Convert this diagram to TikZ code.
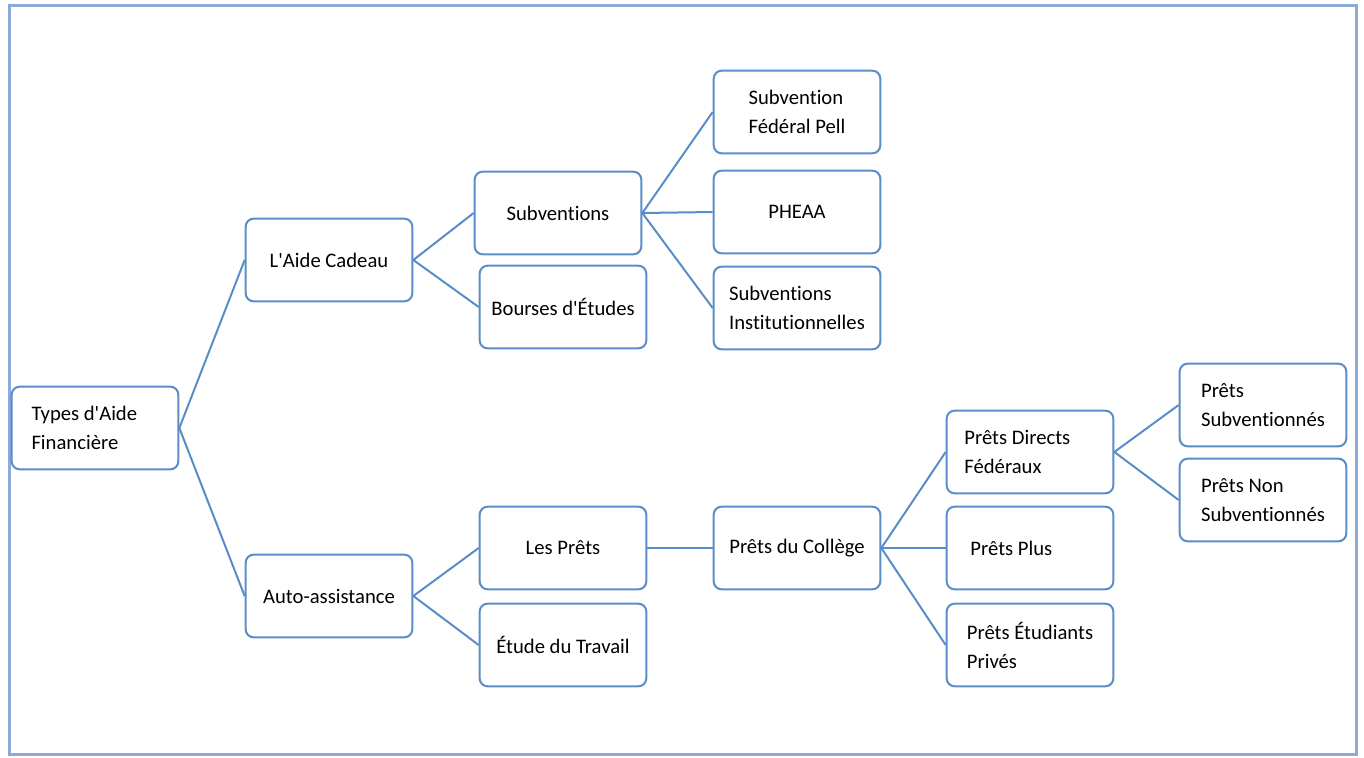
\documentclass[tikz,border=0pt]{standalone}
\usepackage{fontspec}
\setmainfont{Carlito}[Ligatures={NoCommon}]
\usepackage{tikz}
\definecolor{boxBlue}{RGB}{88,141,199}
\definecolor{frameBlue}{RGB}{142,170,219}
\newcommand{\q}{\textquotesingle}

\begin{document}
\begin{tikzpicture}[x=0.75pt,y=-0.75pt]
  \tikzstyle{myBox}=[draw=boxBlue, line width=1.5pt, rounded corners=6pt, fill=white,
                     minimum width=125pt, minimum height=62pt, align=left,
                     font=\fontsize{15.5}{21.75}\selectfont]
  \tikzstyle{myLine}=[draw=boxBlue, line width=1.5pt]

  \useasboundingbox (0,0) rectangle (1364,757);
  \draw[frameBlue, line width=2.25pt] (9,5.5) rectangle (1356.5,754.5);

  \node[myBox] (types) at (95,428) {Types d\q Aide\hspace*{16pt}\\Financière};

  \node[myBox] (cadeau) at (329,260) {L\q Aide Cadeau};
  \node[myBox] (auto) at (329,596) {Auto-assistance};

  \node[myBox] (subv) at (558,213) {Subventions};
  \node[myBox] (bourses) at (563,307) {Bourses d\q Études};
  \node[myBox] (prets) at (563,548) {Les Prêts};
  \node[myBox] (travail) at (563,645) {Étude du Travail};

  \node[myBox] (pell) at (797,112) {Subvention\\Fédéral Pell};
  \node[myBox] (pheaa) at (797,212) {PHEAA};
  \node[myBox] (instit) at (797,308) {Subventions\\Institutionnelles};
  \node[myBox] (college) at (797,548) {Prêts du Collège};

  \node[myBox] (directs) at (1030,452) {Prêts Directs\hspace*{19pt}\\Fédéraux};
  \node[myBox] (plus) at (1030,548) {Prêts Plus\hspace*{28pt}};
  \node[myBox] (prives) at (1030,645) {Prêts Étudiants\\Privés};

  \node[myBox] (subvPrets) at (1263,405) {Prêts\\Subventionnés};
  \node[myBox] (nonSubv) at (1263,500) {Prêts Non\\Subventionnés};

  \draw[myLine] (types.east) -- (cadeau.west);
  \draw[myLine] (types.east) -- (auto.west);
  \draw[myLine] (cadeau.east) -- (subv.west);
  \draw[myLine] (cadeau.east) -- (bourses.west);
  \draw[myLine] (auto.east) -- (prets.west);
  \draw[myLine] (auto.east) -- (travail.west);
  \draw[myLine] (subv.east) -- (pell.west);
  \draw[myLine] (subv.east) -- (pheaa.west);
  \draw[myLine] (subv.east) -- (instit.west);
  \draw[myLine] (prets.east) -- (college.west);
  \draw[myLine] (college.east) -- (directs.west);
  \draw[myLine] (college.east) -- (plus.west);
  \draw[myLine] (college.east) -- (prives.west);
  \draw[myLine] (directs.east) -- (subvPrets.west);
  \draw[myLine] (directs.east) -- (nonSubv.west);
\end{tikzpicture}
\end{document}
